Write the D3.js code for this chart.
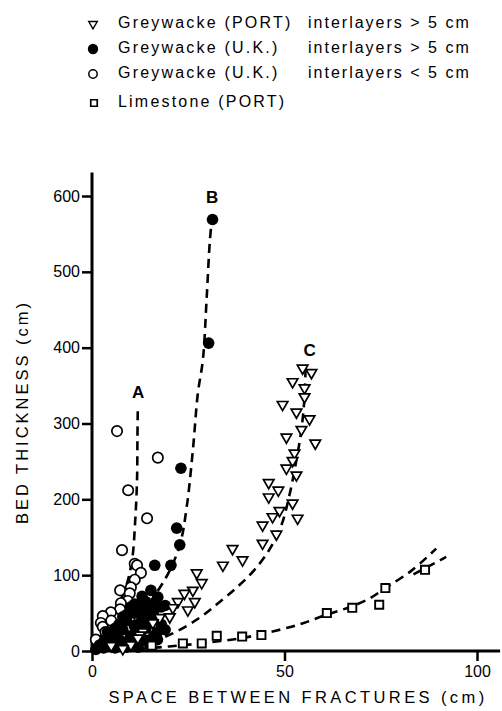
<!DOCTYPE html>
<html><head><meta charset="utf-8">
<script src="https://cdn.jsdelivr.net/npm/d3@7"></script>
<style>
html,body{margin:0;padding:0;background:#fff;}
svg{display:block;font-family:"Liberation Sans",Arial,sans-serif;}
</style></head>
<body>
<svg id="c" width="502" height="711"></svg>
<script>
// ---- data (x = space between fractures cm, y = bed thickness cm) ----
const xTicks = [0, 50, 100];
const yTicks = [0, 100, 200, 300, 400, 500, 600];
const xTitle = "SPACE BETWEEN FRACTURES (cm)";
const yTitle = "BED THICKNESS (cm)";

const legendNames = ["Greywacke (PORT)", "Greywacke (U.K.)", "Greywacke (U.K.)", "Limestone (PORT)"];
const legendNotes = ["interlayers > 5 cm", "interlayers > 5 cm", "interlayers < 5 cm", ""];

const portGreywacke = [[57,367],[54.7,373],[52.1,355],[55.2,347],[55.2,335],[49.5,325],[53.1,315],[56.5,306],[54.4,292],[50.5,282],[58,274],[52.6,261],[52.1,251],[50.5,241],[53.1,232],[45.9,222],[48.4,212],[45.9,203],[52.1,195],[48.7,185],[53.4,175],[46.9,177],[44.3,166],[47.9,154],[44.3,142],[36.5,135],[39.1,120],[34,113],[27.2,103],[28.5,90],[26.2,80],[24,76],[26.7,65],[22.3,65],[24.9,54],[21,57],[20.2,45],[17.6,44],[15.8,37],[13.2,25],[12.4,21],[11.9,17],[10.1,8],[5,7],[8,3]];
const ukThick = [[31.3,569],[30.3,406],[23.1,241],[22,162],[22.8,140],[16.3,113],[20.5,113],[15.3,80],[17.1,71],[12.7,63],[16.3,63],[14,55],[18,58],[11,50],[13,42],[15.5,45],[9,40],[11,33],[8,28],[6,22],[4,15],[2,8],[5,8],[8,12],[10,20],[12,25],[14,30],[7,35],[9,48],[16,52],[13,72],[10,58],[3,4],[6,4],[1,2],[14,14],[17,25],[18,35],[7,15],[10,10],[12,5],[4,25],[6,30],[8,45],[12,35],[15,38],[19,60],[13,52],[11,62],[14,65],[16,20],[19,28],[3,12],[5,18],[9,5],[15,8],[17,15]];
const ukThin = [[6.5,290],[17.1,255],[9.4,212],[14.3,175],[7.8,133],[11.1,115],[11.7,113],[12.7,103],[11.1,94],[10.1,84],[7.3,80],[9.8,76],[9.3,66],[7.5,63],[7.3,55],[4.9,51],[2.8,46],[2.3,37],[2.8,32],[5,40],[3.5,25],[1,15]];
const limestone = [[15.5,7],[23.6,10],[28.5,10],[32.4,20],[39,19],[44,21],[61,50],[67.6,57],[74.6,61],[76.2,83],[86.5,107]];

const curveA = [[0,0],[4.7,41],[8.5,80],[10.4,120],[11.2,170],[11.7,226],[11.8,280],[11.9,322]];
const curveB = [[0,0],[9.8,34],[18.9,94],[22.8,140],[24.6,190],[26.2,265],[27.5,340],[28.8,384],[29.8,467],[30.6,540],[31.2,572]];
const curveC = [[0,0],[10,4],[20,21],[28,44],[33.7,67],[38.3,87],[42.2,107],[46,133],[49.2,166],[51.3,206],[53.1,252],[54.4,292],[55.2,335],[55.5,378]];
const curveL1 = [[8,1],[20,6],[30,11],[40,18],[48,27],[55,37],[61,48],[67,58],[72,69],[76.5,84],[83,106],[89.4,135]];
const curveL2 = [[83.5,101],[92,124]];
const curveLabels = [["A",12,340],["B",31.2,597],["C",56.5,395]];

// ---- drawing ----
const svg = d3.select("#c");
const x = d3.scaleLinear().domain([0,100]).range([92,477]);
const y = d3.scaleLinear().domain([0,600]).range([651,196]);

// axes
const gx = svg.append("g").attr("transform",`translate(0,${y(0)})`)
  .call(d3.axisBottom(x).tickValues(xTicks).tickSize(10).tickPadding(5));
const gy = svg.append("g").attr("transform",`translate(${x(0)},0)`)
  .call(d3.axisLeft(y).tickValues(yTicks).tickSize(10).tickPadding(2));
[gx,gy].forEach(g=>{
  g.select(".domain").remove();
  g.selectAll(".tick line").attr("stroke","#000").attr("stroke-width",2.5);
  g.selectAll(".tick text").attr("font-size",16).attr("fill","#000")
   .attr("font-family","'Liberation Sans',Arial,sans-serif");
});
svg.append("line").attr("x1",x(0)).attr("x2",x(106)).attr("y1",y(0)).attr("y2",y(0))
  .attr("stroke","#000").attr("stroke-width",3);
svg.append("line").attr("x1",x(0)).attr("x2",x(0)).attr("y1",y(0)+1.5).attr("y2",y(631))
  .attr("stroke","#000").attr("stroke-width",3);

// titles
svg.append("text").attr("x",298).attr("y",703).attr("text-anchor","middle")
  .attr("font-size",16.5).attr("letter-spacing",3.4).text(xTitle);
svg.append("text").attr("transform","translate(28,412) rotate(-90)").attr("text-anchor","middle")
  .attr("font-size",16.5).attr("letter-spacing",3.0).text(yTitle);

// curves
const line = d3.line().x(d=>x(d[0])).y(d=>y(d[1])).curve(d3.curveCatmullRom.alpha(0.5));
[curveA,curveB,curveC,curveL1,curveL2].forEach(c=>{
  svg.append("path").attr("d",line(c)).attr("fill","none").attr("stroke","#000")
    .attr("stroke-width",2.6).attr("stroke-dasharray","9,6");
});

// markers
const tri = d3.symbol().type(d3.symbolTriangle).size(48)();
const sq = d3.symbol().type(d3.symbolSquare).size(66)();
svg.append("g").selectAll("circle").data(ukThin).join("circle")
  .attr("cx",d=>x(d[0])).attr("cy",d=>y(d[1])).attr("r",5.2).attr("fill","#fff")
  .attr("stroke","#000").attr("stroke-width",1.7);
svg.append("g").selectAll("circle").data(ukThick).join("circle")
  .attr("cx",d=>x(d[0])).attr("cy",d=>y(d[1])).attr("r",5.8).attr("fill","#000");
svg.append("g").selectAll("path").data(portGreywacke).join("path")
  .attr("d",tri).attr("transform",d=>`translate(${x(d[0])},${y(d[1])}) rotate(180)`)
  .attr("fill","#fff").attr("stroke","#000").attr("stroke-width",1.7);
svg.append("g").selectAll("path").data(limestone).join("path")
  .attr("d",sq).attr("transform",d=>`translate(${x(d[0])},${y(d[1])})`)
  .attr("fill","#fff").attr("stroke","#000").attr("stroke-width",1.9);

// curve labels
svg.append("g").selectAll("text").data(curveLabels).join("text")
  .attr("x",d=>x(d[1])).attr("y",d=>y(d[2])).attr("text-anchor","middle")
  .attr("dominant-baseline","middle").attr("font-size",17).attr("font-weight","bold").text(d=>d[0]);

// legend
const legY = [24, 49, 74, 103];
const lg = svg.append("g");
legY.forEach((ly,i)=>{
  if(i===0) lg.append("path").attr("d",d3.symbol().type(d3.symbolTriangle).size(32)())
    .attr("transform",`translate(93,${ly}) rotate(180)`).attr("fill","#fff").attr("stroke","#000").attr("stroke-width",1.4);
  if(i===1) lg.append("circle").attr("cx",93).attr("cy",ly).attr("r",5.2).attr("fill","#000");
  if(i===2) lg.append("circle").attr("cx",93).attr("cy",ly).attr("r",4.2).attr("fill","#fff").attr("stroke","#000").attr("stroke-width",1.5);
  if(i===3) lg.append("path").attr("d",d3.symbol().type(d3.symbolSquare).size(42)())
    .attr("transform",`translate(94,${ly})`).attr("fill","#fff").attr("stroke","#000").attr("stroke-width",1.7);
  lg.append("text").attr("x",118).attr("y",ly).attr("dominant-baseline","middle")
    .attr("font-size",16).attr("letter-spacing",2.2).text(legendNames[i]);
  if(legendNotes[i]) lg.append("text").attr("x",308).attr("y",ly).attr("dominant-baseline","middle")
    .attr("font-size",16).attr("letter-spacing",2.0).text(legendNotes[i]);
});
</script>
</body></html>
